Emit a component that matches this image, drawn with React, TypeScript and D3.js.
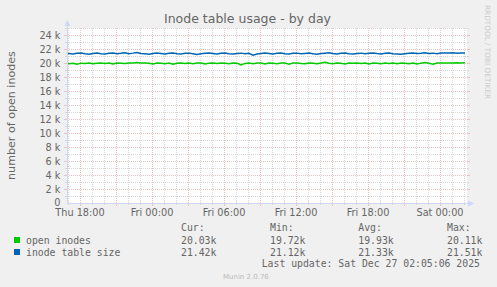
import React from "react";
import * as d3 from "d3";

const title = "Inode table usage - by day";
const yLabel = "number of open inodes";
const seriesNames = ["open inodes", "inode table size"];
const seriesColors = ["#00CC00", "#0066B3"];
const statHeaders = ["Cur:", "Min:", "Avg:", "Max:"];
const greenStats = ["20.03k", "19.72k", "19.93k", "20.11k"];
const blueStats = ["21.42k", "21.12k", "21.33k", "21.51k"];
const lastUpdate = "Last update: Sat Dec 27 02:05:06 2025";
const yTicks = [0, 2000, 4000, 6000, 8000, 10000, 12000, 14000, 16000, 18000, 20000, 22000, 24000];

const openInodes = [
  20.00,19.90,19.97,19.82,19.98,19.94,20.00,19.88,19.96,20.00,
  19.92,19.99,19.86,20.00,19.97,19.93,20.00,20.00,20.06,20.00,
  20.00,19.95,19.87,20.00,19.98,19.91,20.00,19.82,19.97,20.00,
  19.94,20.00,19.89,19.99,20.00,19.85,19.98,20.00,19.92,20.00,
  19.96,19.88,20.00,19.98,19.72,19.94,20.00,19.91,19.99,20.00,
  19.86,20.00,19.97,19.90,20.00,20.00,19.84,19.99,20.00,19.94,
  19.88,20.00,19.97,19.91,20.00,20.11,19.98,19.89,20.00,19.95,
  19.87,20.00,19.98,20.00,19.92,19.99,19.85,20.00,19.96,19.90,
  20.00,19.94,19.99,19.88,20.00,19.97,19.91,20.00,19.86,19.98,
  20.06,19.95,19.83,20.00,20.00,20.00,20.01,20.00,20.02,20.00,20.03,
];
const tableSize = [
  21.40,21.34,21.28,21.38,21.43,21.31,21.26,21.37,21.42,21.33,
  21.28,21.39,21.44,21.32,21.38,21.46,21.34,21.41,21.51,21.37,
  21.31,21.25,21.35,21.42,21.36,21.30,21.39,21.43,21.33,21.28,
  21.38,21.41,21.32,21.23,21.31,21.38,21.42,21.35,21.29,21.39,
  21.43,21.33,21.27,21.37,21.41,21.31,21.38,21.12,21.28,21.35,
  21.42,21.36,21.30,21.39,21.44,21.33,21.28,21.38,21.41,21.32,
  21.37,21.43,21.31,21.26,21.35,21.41,21.46,21.36,21.29,21.38,
  21.42,21.33,21.27,21.37,21.41,21.32,21.38,21.44,21.35,21.29,
  21.39,21.43,21.33,21.28,21.24,21.31,21.39,21.42,21.35,21.38,
  21.45,21.36,21.41,21.33,21.42,21.44,21.42,21.45,21.41,21.43,21.42,
];

const dataStart = new Date(2025, 11, 25, 16, 45);
const stepMin = 20;
const domainStart = new Date(2025, 11, 25, 16, 55);
const domainEnd = new Date(2025, 11, 27, 2, 15);

const W = 497, H = 287;
const L = 67, R = 467, T = 28, B = 203;
const FONT = "'DejaVu Sans', sans-serif";
const MONO = "'DejaVu Sans Mono', monospace";
const TXT = "#666666";
const AXIS = "#CFD6F8";

export default function App() {
  const x = d3.scaleTime().domain([domainStart, domainEnd]).range([L, R]);
  const y = d3.scaleLinear().domain([0, 25000]).range([B, T]);
  const times = openInodes.map((_, i) => new Date(dataStart.getTime() + i * stepMin * 60000));
  const line = d3.line<number>().x((_, i) => x(times[i])).y((v) => y(v * 1000));

  const hours = d3.timeHour.range(domainStart, domainEnd);
  const minorH = hours.filter((h) => h.getHours() % 3 !== 0);
  const majorH = hours.filter((h) => h.getHours() % 3 === 0);
  const labelH = hours.filter((h) => h.getHours() % 6 === 0);
  const minorY = d3.range(1000, 25001, 1000).filter((v) => v % 2000 !== 0);
  const majorY = yTicks.filter((v) => v > 0);
  const fmt = d3.timeFormat("%a %H:%M");
  const minorC = "#D6D6D6";
  const majorC = "#F4BDBD";

  return (
    <svg width={W} height={H} style={{ position: "absolute", left: 0, top: 0, display: "block" }}>
      <rect x={0} y={0} width={W} height={H} fill="#F0F0F0" />
      <rect x={L} y={T} width={R - L} height={B - T} fill="#FFFFFF" />
      <defs>
        <clipPath id="plot"><rect x={L} y={T - 2} width={R - L} height={B - T + 2} /></clipPath>
      </defs>
      {/* minor grid */}
      {minorY.map((v) => (
        <g key={"my" + v}>
          <line x1={L} x2={R} y1={y(v) + 0.5} y2={y(v) + 0.5} stroke={minorC} strokeDasharray="1,1" />
          <line x1={L - 2} x2={L} y1={y(v) + 0.5} y2={y(v) + 0.5} stroke={minorC} />
          <line x1={R} x2={R + 2} y1={y(v) + 0.5} y2={y(v) + 0.5} stroke={minorC} />
        </g>
      ))}
      {minorH.map((h) => (
        <g key={"mh" + h.getTime()}>
          <line x1={x(h) + 0.5} x2={x(h) + 0.5} y1={T} y2={B} stroke={minorC} strokeDasharray="1,1" />
          <line x1={x(h) + 0.5} x2={x(h) + 0.5} y1={B} y2={B + 2} stroke={minorC} />
        </g>
      ))}
      {/* major grid */}
      {majorY.map((v) => (
        <g key={"My" + v}>
          <line x1={L} x2={R} y1={y(v) + 0.5} y2={y(v) + 0.5} stroke={majorC} strokeDasharray="1,1" />
          <line x1={L - 3} x2={L} y1={y(v) + 0.5} y2={y(v) + 0.5} stroke={majorC} />
          <line x1={R} x2={R + 3} y1={y(v) + 0.5} y2={y(v) + 0.5} stroke={majorC} />
        </g>
      ))}
      {majorH.map((h) => (
        <g key={"Mh" + h.getTime()}>
          <line x1={x(h) + 0.5} x2={x(h) + 0.5} y1={T} y2={B} stroke={majorC} strokeDasharray="1,1" />
          <line x1={x(h) + 0.5} x2={x(h) + 0.5} y1={B} y2={B + 3} stroke={majorC} />
        </g>
      ))}
      {/* series */}
      <g clipPath="url(#plot)">
        <path d={line(openInodes) || ""} fill="none" stroke={seriesColors[0]} strokeWidth={1.5} />
        <path d={line(tableSize) || ""} fill="none" stroke={seriesColors[1]} strokeWidth={1.5} />
      </g>
      {/* axes */}
      <line x1={L + 0.5} x2={L + 0.5} y1={B} y2={T - 4} stroke={AXIS} />
      <path d={`M${L - 2.5},${T - 2} L${L + 0.5},${T - 8} L${L + 3.5},${T - 2} Z`} fill={AXIS} />
      <line x1={L} x2={R + 3} y1={B + 0.5} y2={B + 0.5} stroke={AXIS} />
      <path d={`M${R + 1},${B - 2.5} L${R + 7},${B + 0.5} L${R + 1},${B + 3.5} Z`} fill={AXIS} />
      {/* y tick labels */}
      {yTicks.map((v) => (
        <text key={"yl" + v} x={60.5} y={y(v) + (v === 0 ? 3 : 3.5)} textAnchor="end" fontFamily={FONT} fontSize={9.72} fill={TXT}>
          {v === 0 ? "0" : `${v / 1000} k`}
        </text>
      ))}
      {labelH.map((h) => (
        <text key={"xl" + h.getTime()} x={x(h)} y={215.5} textAnchor="middle" fontFamily={FONT} fontSize={9.72} fill={TXT}>
          {fmt(h)}
        </text>
      ))}
      {/* title & labels */}
      <text x={247.5} y={23} textAnchor="middle" fontFamily={FONT} fontSize={12.5} fill={TXT}>{title}</text>
      <text transform={`translate(15,${(T + B) / 2}) rotate(-90)`} textAnchor="middle" fontFamily={FONT} fontSize={11.1} fill={TXT}>{yLabel}</text>
      <text transform="translate(485,5) rotate(90)" fontFamily={FONT} fontSize={7.3} fill="#CCCCCC">RRDTOOL / TOBI OETIKER</text>
      {/* legend */}
      {statHeaders.map((s, i) => (
        <text key={"h" + s} x={[181, 270, 358.3, 447][i]} y={231} fontFamily={MONO} fontSize={9.8} fill={TXT} style={{ whiteSpace: "pre" }}>{s}</text>
      ))}
      {[greenStats, blueStats].map((row, r) => (
        <g key={"row" + r}>
          <rect x={14} y={237 + r * 12} width={6} height={6} fill={seriesColors[r]} />
          <text x={26} y={243.5 + r * 12} fontFamily={MONO} fontSize={9.8} fill={TXT}>{seriesNames[r]}</text>
          {row.map((s, i) => (
            <text key={i} x={[181, 270, 358.3, 447][i]} y={243.5 + r * 12} fontFamily={MONO} fontSize={9.8} fill={TXT}>{s}</text>
          ))}
        </g>
      ))}
      <text x={261.7} y={267} fontFamily={MONO} fontSize={9.8} fill={TXT} style={{ whiteSpace: "pre" }}>{lastUpdate}</text>
      <text x={223} y={279} fontFamily={FONT} fontSize={7} fill="#BBBBBB">Munin 2.0.76</text>
    </svg>
  );
}
